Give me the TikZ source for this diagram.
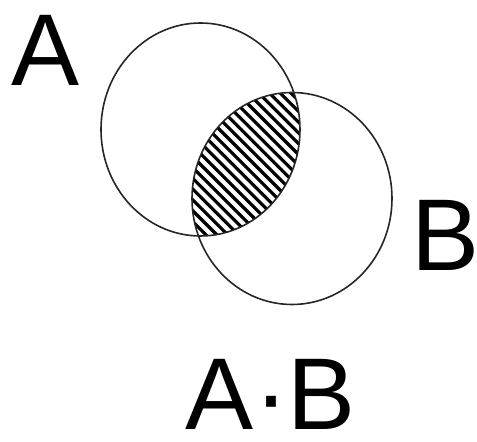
\documentclass[tikz,border=0pt]{standalone}
\usepackage{fontspec}
\setmainfont{Liberation Sans}
\tikzset{
 setline/.style={line width=0.8pt,black!85},
 hatchline/.style={line width=1.6pt},
 setlabel/.style={inner sep=0pt,font=\fontsize{51}{60}\selectfont}
}
\begin{document}
\begin{tikzpicture}[x=0.5pt,y=-0.5pt]
 \useasboundingbox (0,0) rectangle (477,442);
 \coordinate (cA) at (200.5,129.5);
 \coordinate (cB) at (292,198.5);
 % hatched part A.B
 \begin{scope}
  \clip (cA) ellipse[x radius=99.5,y radius=106.5];
  \clip (cB) ellipse[x radius=100,y radius=106];
  \foreach \k in {-450,-439.2,...,450}
   \draw[hatchline] (\k,0)--(\k+460,460);
 \end{scope}
 \draw[setline] (cA) ellipse[x radius=99.5,y radius=106.5];
 \draw[setline] (cB) ellipse[x radius=100,y radius=106];
 \node[setlabel] (labA) at (46,50) {A};
 \node[setlabel] (labB) at (446,235) {B};
 \node[setlabel] (labAB) at (271,394) {A·B};
\end{tikzpicture}
\end{document}
